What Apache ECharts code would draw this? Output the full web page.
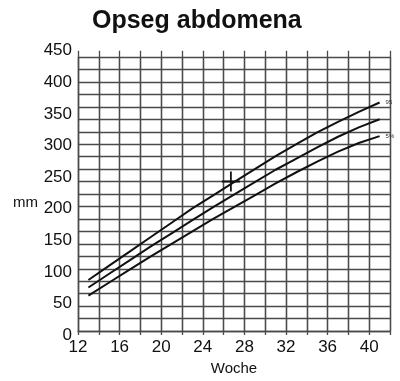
<!DOCTYPE html>
<html><head><meta charset="utf-8">
<script src="https://cdn.jsdelivr.net/npm/echarts@6/dist/echarts.min.js"></script>
<style>html,body{margin:0;padding:0;background:#fff}#c{width:400px;height:381px}</style>
</head><body><div id="c"></div>
<script>
const weeks = [13,15,17,19,21,23,25,27,29,31,33,35,37,39,41];
const p95 = [82,105,128,151,174,197,218,239,260,281,300,319,336,352,367];
const p50 = [70,92,114,136,157,178,199,219,239,259,277,295,312,327,340];
const p5  = [57,78,99,120,140,160,180,199,218,237,255,272,288,302,313];
const markPoint = [[26.7, 240]];
const xTickLabels = [12,16,20,24,28,32,36,40];
const yTickLabels = [0,50,100,150,200,250,300,350,400,450];

const F = 'Liberation Sans, Arial, sans-serif';
const gridColor = '#4a4a4a';
const chart = echarts.init(document.getElementById('c'), null, {renderer:'canvas'});
const pair = (xs, ys) => xs.map((x,i)=>[x, ys[i]]);
chart.setOption({
  animation:false,
  title:{text:'Opseg abdomena', left:87, top:4, textStyle:{fontFamily:F, fontSize:25, fontWeight:'bold', color:'#111'}},
  grid:[
    {left:78, right:10, top:57, bottom:46},
    {left:78, right:10, top:50.7, bottom:46}
  ],
  xAxis:[
    {gridIndex:0, type:'value', min:12, max:42, interval:2,
     axisLine:{show:true, lineStyle:{color:gridColor, width:1.3}}, axisTick:{show:false},
     splitLine:{show:true, lineStyle:{color:gridColor, width:1.3}},
     axisLabel:{show:true, fontFamily:F, fontSize:17, color:'#111', margin:8,
       formatter:v=> xTickLabels.indexOf(v)>=0 ? String(v) : ''},
     name:'Woche', nameLocation:'middle', nameGap:27, nameTextStyle:{fontFamily:F, fontSize:15, color:'#111'}},
    {gridIndex:1, type:'value', min:12, max:42, interval:2,
     axisLine:{show:false}, axisTick:{show:false}, axisLabel:{show:false},
     splitLine:{show:true, lineStyle:{color:gridColor, width:1.3}}}
  ],
  yAxis:[
    {gridIndex:0, type:'value', min:0, max:440, interval:20,
     axisLine:{show:true, lineStyle:{color:gridColor, width:1.3}}, axisTick:{show:false},
     axisLabel:{show:false},
     splitLine:{show:true, lineStyle:{color:gridColor, width:1.3}}},
    {gridIndex:1, type:'value', min:0, max:450, interval:50,
     axisLine:{show:false}, axisTick:{show:false}, splitLine:{show:false},
     axisLabel:{show:true, fontFamily:F, fontSize:17, color:'#111', margin:6,
       formatter:v=> yTickLabels.indexOf(v)>=0 ? String(v) : ''}}
  ],
  series:[
    {type:'line', xAxisIndex:0, yAxisIndex:0, data:pair(weeks,p95), smooth:false, showSymbol:false,
     lineStyle:{color:'#111', width:2},
     endLabel:{show:true, formatter:'95', fontFamily:F, fontSize:6, color:'#333', distance:6}},
    {type:'line', xAxisIndex:0, yAxisIndex:0, data:pair(weeks,p50), smooth:false, showSymbol:false,
     lineStyle:{color:'#111', width:2}},
    {type:'line', xAxisIndex:0, yAxisIndex:0, data:pair(weeks,p5), smooth:false, showSymbol:false,
     lineStyle:{color:'#111', width:2},
     endLabel:{show:true, formatter:'5%', fontFamily:F, fontSize:6, color:'#333', distance:6}},
    {type:'scatter', xAxisIndex:0, yAxisIndex:0, data:markPoint, z:10,
     symbol:'path://M9,0 L11,0 L11,9 L20,9 L20,11 L11,11 L11,20 L9,20 L9,11 L0,11 L0,9 L9,9 Z',
     symbolSize:[18,20], itemStyle:{color:'#111', opacity:1}}
  ],
  graphic:[
    {type:'text', left:13, top:195, style:{text:'mm', font:'15px '+F, fill:'#111'}}
  ]
});
</script></body></html>
